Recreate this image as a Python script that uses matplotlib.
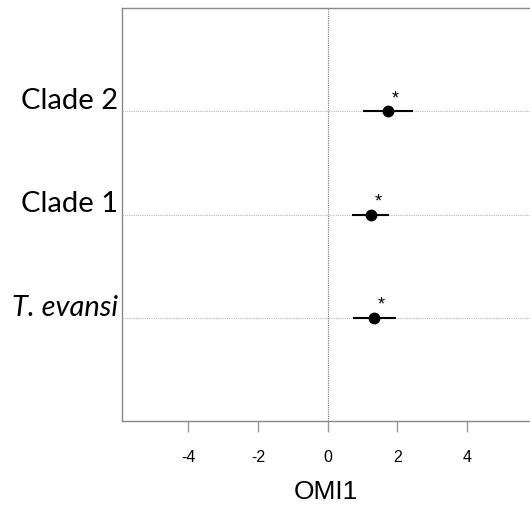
import matplotlib.pyplot as plt

# forest-plot style values
labels = ['T. evansi', 'Clade 1', 'Clade 2']
omi_mean = [1.32, 1.23, 1.72]
omi_low = [0.72, 0.70, 1.01]
omi_high = [1.95, 1.77, 2.44]
xticks = [-4, -2, 0, 2, 4]

W, H = 530, 509
fig = plt.figure(figsize=(W / 100, H / 100), dpi=100)
ax = fig.add_axes([122 / W, 1 - 421 / H, 1 - 122 / W, (421 - 8) / H])

ypos = [1, 2, 3]
for y in ypos:
    ax.axhline(y, color='#bbbbbb', lw=0.8, ls=(0, (1, 1)), zorder=1)
ax.axvline(0, color='#777777', lw=0.8, ls=(0, (1, 1)), zorder=1)

ax.hlines(ypos, omi_low, omi_high, color='black', lw=1.5, zorder=3)
ax.plot(omi_mean, ypos, 'o', color='black', ms=7.5, zorder=4)
for m, y in zip(omi_mean, ypos):
    ax.annotate('*', (m, y), xytext=(3, 3), textcoords='offset points',
                fontsize=13, ha='left', va='bottom', family='Liberation Sans')

ax.set_xlim(-5.9, 5.8)
ax.set_ylim(0, 4)
ax.set_xticks(xticks)
ax.set_xticklabels([str(t) for t in xticks], family='Liberation Sans', fontsize=11.5)
ax.tick_params(axis='x', length=8, width=1, color='#999999', pad=13)
ax.set_yticks([])

for i, (lab, y) in enumerate(zip(labels, ypos)):
    style = 'italic' if i == 0 else 'normal'
    ax.text(-0.01, y + 0.02, lab, transform=ax.get_yaxis_transform(),
            ha='right', va='baseline', fontsize=21, style=style,
            family='Lato')

ax.set_xlabel('OMI1', family='Liberation Sans', fontsize=19, labelpad=11)

for side in ['left', 'top', 'bottom']:
    ax.spines[side].set_color('#888888')
    ax.spines[side].set_linewidth(1.0)
ax.spines['right'].set_visible(False)

fig.savefig('out.png', dpi=100)
